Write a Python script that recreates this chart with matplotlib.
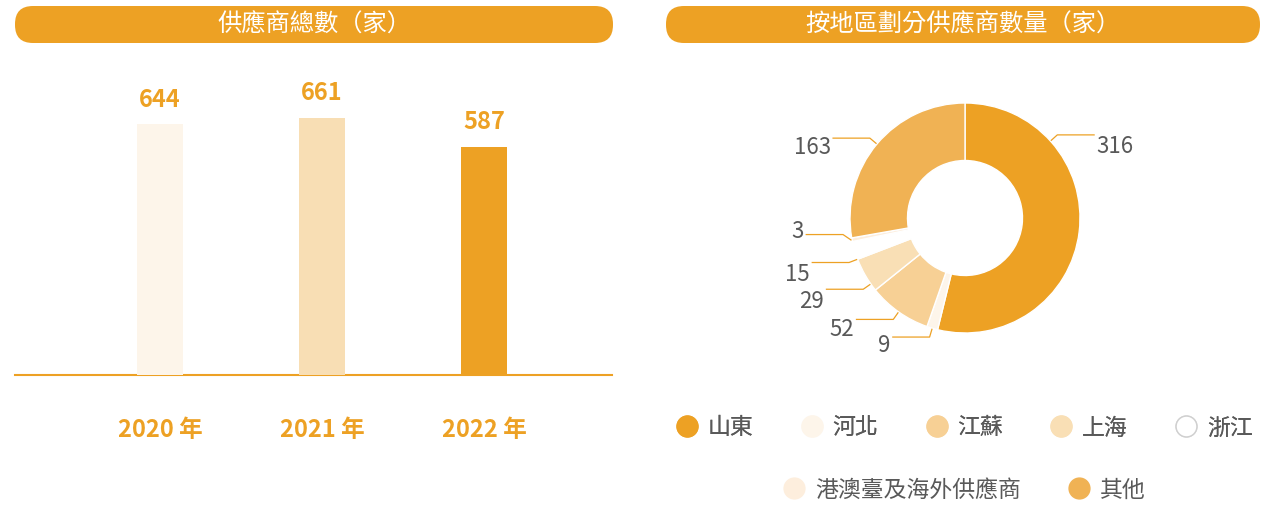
import matplotlib
matplotlib.use("Agg")
import matplotlib.pyplot as plt
from matplotlib.patches import FancyBboxPatch
from matplotlib.lines import Line2D
import matplotlib.transforms as mtransforms
import numpy as np

plt.rcParams['font.family'] = ['Noto Sans CJK TC', 'DejaVu Sans']

# ---- data ----
years = ['2020 年', '2021 年', '2022 年']
supplier_totals = [644, 661, 587]

regions = ['山東', '河北', '江蘇', '上海', '浙江', '港澳臺及海外供應商', '其他']
region_counts = [316, 9, 52, 29, 15, 3, 163]

title_left = '供應商總數（家）'
title_right = '按地區劃分供應商數量（家）'

# ---- style ----
ORANGE = '#eda124'
GREY_TXT = '#595959'
bar_colors = ['#fdf5ea', '#f8deb4', ORANGE]
pie_colors = [ORANGE, '#fdf5ea', '#f7d095', '#f9dfb5', '#ffffff', '#fdeedd', '#f0b254']
legend_edges = [ORANGE, '#fdf5ea', '#f7d095', '#f9dfb5', '#d0d0d0', '#fdeedd', '#f0b254']

# label placement tweaks (layout only): leader-line angle overrides,
# elbow lift (radius units), text vertical offset (px)
label_angle = [42, None, None, 215, 201, None, None]
label_lift = [0, 0, 0, 0, 0, 0.06, 0]
label_dy = [-12, -8, -10, -12, -12, 3, -9]

W, H = 1261, 508
fig = plt.figure(figsize=(W / 100, H / 100), dpi=100)

# overlay in pixel coordinates for the header pills
ov = fig.add_axes([0, 0, 1, 1])
ov.set_xlim(0, W)
ov.set_ylim(H, 0)
ov.axis('off')
for (x0, x1), txt in [((15, 613), title_left), ((666, 1260), title_right)]:
    ov.add_patch(FancyBboxPatch((x0, 6), x1 - x0, 37,
                                boxstyle='round,pad=0,rounding_size=18',
                                fc=ORANGE, ec='none'))
    ov.text((x0 + x1) / 2, 25, txt, color='white', fontsize=17.5,
            ha='center', va='center')

# ---- bar chart ----
ax = fig.add_axes([15 / W, 133 / H, 597 / W, 300 / H])
x = np.arange(len(years))
bars = ax.bar(x, supplier_totals, width=0.284, color=bar_colors, zorder=3)
ax.bar_label(bars, labels=[str(v) for v in supplier_totals], padding=9,
             color=ORANGE, fontsize=17, fontweight='bold')
ax.set_xlim(-0.895, 2.79)
ax.set_ylim(0, 771)
ax.set_xticks(x, years)
ax.tick_params(axis='x', length=0, pad=31, labelsize=17, labelcolor=ORANGE)
for lbl in ax.get_xticklabels():
    lbl.set_fontweight('bold')
ax.set_yticks([])
for s in ['top', 'right', 'left']:
    ax.spines[s].set_visible(False)
ax.spines['bottom'].set_color(ORANGE)
ax.spines['bottom'].set_linewidth(1.5)
ax.patch.set_alpha(0)

# ---- donut chart ----
R = 184
pax = fig.add_axes([(965 - R) / W, (H - 218 - R) / H, 2 * R / W, 2 * R / H])
wedges, _ = pax.pie(region_counts, colors=pie_colors, startangle=90,
                    counterclock=False, radius=1,
                    wedgeprops=dict(width=0.5, edgecolor='white', linewidth=1))
pax.set_xlim(-1.6, 1.6)
pax.set_ylim(-1.6, 1.6)
pax.set_aspect('equal')
pax.axis('off')

for i, (w, n) in enumerate(zip(wedges, region_counts)):
    a = label_angle[i] if label_angle[i] is not None else (w.theta1 + w.theta2) / 2
    a = np.deg2rad(a)
    cx, cy = np.cos(a), np.sin(a)
    side = 1 if cx >= 0 else -1
    p0 = (1.01 * cx, 1.01 * cy)
    p1 = (1.08 * cx, 1.08 * cy + label_lift[i])
    p2 = (p1[0] + side * 0.32, p1[1])
    pax.plot([p0[0], p1[0], p2[0]], [p0[1], p1[1], p2[1]],
             color=ORANGE, lw=0.9, clip_on=False)
    tf = mtransforms.offset_copy(pax.transData, fig=fig, x=0, y=label_dy[i], units='dots')
    pax.text(p2[0] + side * 0.02, p2[1], str(n), transform=tf,
             ha='left' if side > 0 else 'right', va='center',
             fontsize=16, color=GREY_TXT, fontweight='light', clip_on=False)

# ---- legend (two centred rows) ----
handles = [Line2D([], [], marker='o', linestyle='', markersize=15,
                  markerfacecolor=fc, markeredgecolor=ec, markeredgewidth=1)
           for fc, ec in zip(pie_colors, legend_edges)]
leg_kw = dict(loc='center', frameon=False, fontsize=16.5, handlelength=1.0,
              handletextpad=0.4, columnspacing=2.05, labelcolor=GREY_TXT,
              borderpad=0, borderaxespad=0)
leg1 = fig.legend(handles[:5], regions[:5], ncol=5,
                  bbox_to_anchor=(964 / W, 1 - 428 / H), **leg_kw)
fig.add_artist(leg1)
fig.legend(handles[5:], regions[5:], ncol=2,
           bbox_to_anchor=(964 / W, 1 - 490 / H), **leg_kw)

fig.savefig('out.png', dpi=100)
